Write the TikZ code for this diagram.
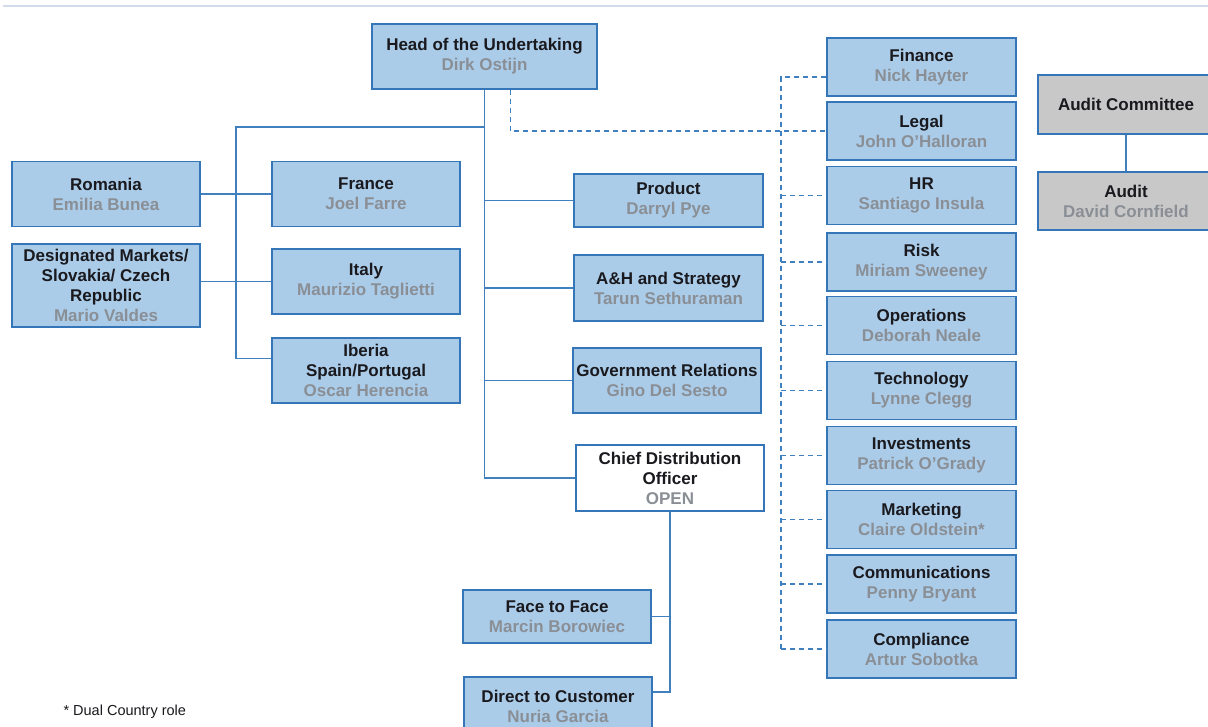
\documentclass[tikz,border=0pt]{standalone}
\usepackage{fontspec}
\setmainfont{Liberation Sans}
\usepackage{tikz}
\usetikzlibrary{calc}
\usepackage{xcolor}
\definecolor{boxfill}{RGB}{171, 204, 233}
\definecolor{boxline}{RGB}{52, 118, 184}
\definecolor{linkblue}{RGB}{64, 128, 190}
\definecolor{namegray}{RGB}{138, 143, 150}
\definecolor{titleink}{RGB}{25, 25, 30}
\definecolor{boardgray}{RGB}{200, 200, 200}
\definecolor{rulegray}{RGB}{208, 220, 233}
\newcommand{\who}[1]{\textcolor{namegray}{#1}}

\begin{document}
\begin{tikzpicture}[x=1pt, y=-1pt,
  unit/.style={draw=boxline, fill=boxfill, line width=1.3pt, align=center,
    inner sep=0pt, text=titleink, minimum width=188pt, minimum height=65pt,
    font=\fontsize{17}{20}\selectfont\bfseries},
  board/.style={unit, fill=boardgray},
  link/.style={linkblue, line width=1.4pt},
  dotline/.style={linkblue, line width=1.3pt, dash pattern=on 5pt off 4pt}]

  \useasboundingbox (0,0) rectangle (1208,727);
  \clip (0,0) rectangle (1208,727);
  \fill[white] (0,0) rectangle (1208,727);
  \draw[rulegray, line width=2pt] (3,6) -- (1208,6);

  % top of the tree
  \node[unit, minimum width=225pt] (head) at (484.5,56.5) {Head of the Undertaking\\\who{Dirk Ostijn}};

  % country units
  \node[unit] (romania) at (106,194) {Romania\\\who{Emilia Bunea}};
  \node[unit, minimum height=83pt] (designated) at (106,285.5)
    {Designated Markets/\\Slovakia/ Czech\\Republic\\\who{Mario Valdes}};
  \node[unit] (france) at (366,194) {France\\\who{Joel Farre}};
  \node[unit] (italy) at (366,281.5) {Italy\\\who{Maurizio Taglietti}};
  \node[unit] (iberia) at (366,370.5) {Iberia\\Spain/Portugal\\\who{Oscar Herencia}};

  % direct reports
  \node[unit, minimum width=189pt, minimum height=53pt] (product) at (668.5,200.5) {Product\\\who{Darryl Pye}};
  \node[unit, minimum width=189pt, minimum height=66pt] (strategy) at (668.5,288) {A\&H and Strategy\\\who{Tarun Sethuraman}};
  \node[unit] (govrel) at (667,380.5) {Government Relations\\\who{Gino Del Sesto}};
  \node[unit, fill=white, minimum height=66pt] (cdo) at (670,478) {Chief Distribution\\Officer\\\who{OPEN}};

  % distribution channels
  \node[unit, minimum height=53pt] (face) at (557,616.5) {Face to Face\\\who{Marcin Borowiec}};
  \node[unit, minimum height=58pt] (direct) at (558,706) {Direct to Customer\\\who{Nuria Garcia}};

  % support functions (dotted line)
  \foreach \dept/\name/\yc [count=\i] in {Finance/Nick Hayter/67, Legal/John O'Halloran/131,
      HR/Santiago Insula/195.5, Risk/Miriam Sweeney/262, Operations/Deborah Neale/325.5,
      Technology/Lynne Clegg/390.5, Investments/Patrick O'Grady/455.5,
      Marketing/Claire Oldstein*/519.5, Communications/Penny Bryant/584,
      Compliance/Artur Sobotka/649} {
    \node[unit, minimum width=189pt, minimum height=58pt] (staff\i) at (921.5,\yc) {\dept\\\who{\name}};
  }

  % audit
  \node[board, minimum width=176pt, minimum height=59pt] (auditcom) at (1126,104.5) {Audit Committee};
  \node[board, minimum width=176pt, minimum height=58pt] (audit) at (1126,201) {Audit\\\who{David Cornfield}};
  \draw[link] (auditcom) -- (audit);

  % solid reporting lines
  \coordinate (lbus) at (236,127);
  \draw[link] (head.south) |- (cdo.west);
  \draw[link] (head.south |- lbus) -- (lbus) |- ([yshift=12pt]iberia.west);
  \draw[link] (romania.east) -- (france.west);
  \draw[link] (designated.east |- italy.west) -- (italy.west);
  \foreach \n in {product, strategy, govrel}
    \draw[link] (head.south |- \n.west) -- (\n.west);
  \draw[link] (cdo.south) |- (face.east);
  \draw[link] (cdo.south) |- ([yshift=14pt]direct.east);

  % dotted reporting lines
  \coordinate (dbus) at (781,77);
  \draw[dotline] ([xshift=26pt]head.south) |- (staff2.west);
  \draw[dotline] (dbus -| staff1.west) -- (dbus) -- (dbus |- staff10.west);
  \foreach \i in {3,...,10}
    \draw[dotline] (dbus |- staff\i.west) -- (staff\i.west);

  \node[anchor=west, font=\fontsize{14.5}{16}\selectfont, text=titleink] (note) at (60,712) {* Dual Country role};

\end{tikzpicture}
\end{document}
